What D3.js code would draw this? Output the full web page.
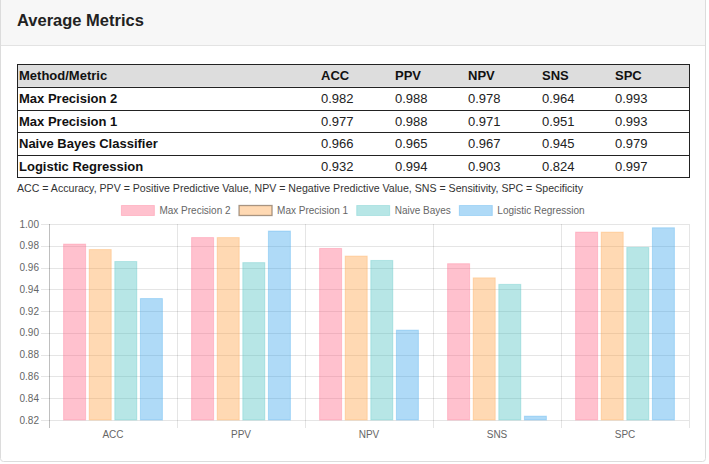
<!doctype html>
<html>
<head>
<meta charset="utf-8">
<script src="https://d3js.org/d3.v7.min.js"></script>
<style>
  html, body { margin: 0; padding: 0; background: #fff; }
  svg { display: block; font-family: "Liberation Sans", Arial, Helvetica, sans-serif; }
</style>
</head>
<body>
<svg id="chart" width="709" height="464"></svg>
<script>
// data
var metrics = ["ACC", "PPV", "NPV", "SNS", "SPC"];
var methods = ["Max Precision 2", "Max Precision 1", "Naive Bayes Classifier", "Logistic Regression"];
var legendNames = ["Max Precision 2", "Max Precision 1", "Naive Bayes", "Logistic Regression"];
var maxPrecision2 = [0.982, 0.988, 0.978, 0.964, 0.993];
var maxPrecision1 = [0.977, 0.988, 0.971, 0.951, 0.993];
var naiveBayes = [0.966, 0.965, 0.967, 0.945, 0.979];
var logisticRegression = [0.932, 0.994, 0.903, 0.824, 0.997];
var yTicks = [0.82, 0.84, 0.86, 0.88, 0.90, 0.92, 0.94, 0.96, 0.98, 1.00];
var footnote = "ACC = Accuracy, PPV = Positive Predictive Value, NPV = Negative Predictive Value, SNS = Sensitivity, SPC = Specificity";

var series = [maxPrecision2, maxPrecision1, naiveBayes, logisticRegression];
var colors = [[255, 99, 132], [255, 159, 64], [75, 192, 192], [54, 162, 235]];
function rgba(c, a) { return "rgba(" + c[0] + "," + c[1] + "," + c[2] + "," + a + ")"; }

var svg = d3.select("#chart");

// card
svg.append("rect")
    .attr("x", 0.5).attr("y", -4).attr("width", 705).attr("height", 465.5)
    .attr("rx", 3).attr("fill", "#fff").attr("stroke", "#dcdcdc");
svg.append("rect")
    .attr("x", 1).attr("y", 0).attr("width", 704).attr("height", 45.5)
    .attr("fill", "#f7f7f7");
svg.append("line")
    .attr("x1", 1).attr("x2", 705).attr("y1", 45.5).attr("y2", 45.5)
    .attr("stroke", "#e3e3e3");
svg.append("text")
    .attr("x", 17).attr("y", 26)
    .attr("font-size", "16.5px").attr("font-weight", "bold").attr("fill", "#222")
    .text("Average Metrics");

// table
var tLeft = 17, tRight = 690;
var colX = [19, 321, 395, 468, 542, 615];
var rowY = d3.scaleBand().domain(d3.range(methods.length + 1)).range([64, 178]);

var table = svg.append("g");
table.append("rect")
    .attr("x", tLeft).attr("y", rowY(0)).attr("width", tRight - tLeft).attr("height", rowY.bandwidth())
    .attr("fill", "#dddddd");

var headerCells = ["Method/Metric"].concat(metrics);
table.selectAll(".hd").data(headerCells).enter().append("text")
    .attr("class", "hd")
    .attr("x", function(d, i) { return colX[i]; })
    .attr("y", rowY(0) + rowY.bandwidth() / 2 + 4.5)
    .attr("font-size", "13px").attr("font-weight", "bold").attr("fill", "#111")
    .text(function(d) { return d; });

methods.forEach(function(m, r) {
    var y = rowY(r + 1) + rowY.bandwidth() / 2 + 4.5;
    table.append("text")
        .attr("x", colX[0]).attr("y", y)
        .attr("font-size", "13px").attr("font-weight", "bold").attr("fill", "#111")
        .text(m);
    table.selectAll(".v" + r).data(series[r]).enter().append("text")
        .attr("x", function(d, i) { return colX[i + 1]; })
        .attr("y", y)
        .attr("font-size", "13px").attr("fill", "#222")
        .text(function(d) { return d3.format(".3f")(d); });
});

table.selectAll(".rl").data(d3.range(1, methods.length + 1)).enter().append("line")
    .attr("x1", tLeft).attr("x2", tRight)
    .attr("y1", function(d) { return Math.round(rowY(d)) + 0.5; })
    .attr("y2", function(d) { return Math.round(rowY(d)) + 0.5; })
    .attr("stroke", "#222");
table.append("rect")
    .attr("x", tLeft + 0.5).attr("y", rowY(0) + 0.5)
    .attr("width", tRight - tLeft - 1).attr("height", 178 - rowY(0) - 1)
    .attr("fill", "none").attr("stroke", "#222");

svg.append("text")
    .attr("x", 17).attr("y", 192)
    .attr("font-size", "10.6px").attr("fill", "#333")
    .text(footnote);

// bar chart
var x0 = d3.scaleBand().domain(metrics).range([49, 689]);
var x1 = d3.scaleBand().domain(d3.range(series.length))
    .range([0, x0.bandwidth() * 0.8]).paddingInner(0.1).paddingOuter(0.05);
var y = d3.scaleLinear().domain([0.82, 1.00]).range([420, 224]);

var grid = svg.append("g");
grid.selectAll(".hg").data(yTicks).enter().append("line")
    .attr("x1", 41).attr("x2", 689)
    .attr("y1", function(d) { return Math.round(y(d)) + 0.5; })
    .attr("y2", function(d) { return Math.round(y(d)) + 0.5; })
    .attr("stroke", "rgba(0,0,0,0.1)");
var bounds = metrics.map(function(m) { return x0(m); }).concat([689]);
grid.selectAll(".vg").data(bounds).enter().append("line")
    .attr("x1", function(d) { return Math.round(d) + 0.5; })
    .attr("x2", function(d) { return Math.round(d) + 0.5; })
    .attr("y1", 224).attr("y2", 428)
    .attr("stroke", function(d, i) { return i === 0 ? "rgba(0,0,0,0.25)" : "rgba(0,0,0,0.1)"; });

grid.selectAll(".yl").data(yTicks).enter().append("text")
    .attr("x", 39).attr("y", function(d) { return y(d) + 3.5; })
    .attr("text-anchor", "end").attr("font-size", "10px").attr("fill", "#666")
    .text(function(d) { return d3.format(".2f")(d); });

grid.selectAll(".xl").data(metrics).enter().append("text")
    .attr("x", function(d) { return x0(d) + x0.bandwidth() / 2; })
    .attr("y", 438)
    .attr("text-anchor", "middle").attr("font-size", "10px").attr("fill", "#666")
    .text(function(d) { return d; });

var groups = svg.append("g").selectAll(".grp").data(metrics).enter().append("g")
    .attr("transform", function(d) { return "translate(" + (x0(d) + x0.bandwidth() * 0.1) + ",0)"; });

groups.selectAll("rect")
    .data(function(d, i) { return series.map(function(s, k) { return { k: k, v: s[i] }; }); })
    .enter().append("rect")
    .attr("x", function(d) { return x1(d.k) + 0.5; })
    .attr("y", function(d) { return y(d.v) + 0.5; })
    .attr("width", x1.bandwidth() - 1)
    .attr("height", function(d) { return Math.max(0, y(0.82) - y(d.v) - 0.5); })
    .attr("fill", function(d) { return rgba(colors[d.k], 0.4); })
    .attr("stroke", function(d) { return rgba(colors[d.k], 0.3); })
    .attr("stroke-width", 1);

// legend
var legend = svg.append("g");
var items = legend.selectAll(".li").data(legendNames).enter().append("g");
items.append("rect")
    .attr("width", 33).attr("height", 10).attr("y", 205.5)
    .attr("fill", function(d, i) { return rgba(colors[i], 0.4); })
    .attr("stroke", function(d, i) { return i === 1 ? "rgba(110,90,70,0.6)" : rgba(colors[i], 0.3); })
    .attr("stroke-width", function(d, i) { return i === 1 ? 1.3 : 1; });
items.append("text")
    .attr("x", 38).attr("y", 214)
    .attr("font-size", "10px").attr("fill", "#666")
    .text(function(d) { return d; });
var widths = [];
items.each(function() { widths.push(33 + 5 + d3.select(this).select("text").node().getComputedTextLength()); });
var gap = 8.5;
var total = d3.sum(widths) + gap * (widths.length - 1);
var cx = 353 - total / 2;
items.attr("transform", function(d, i) {
    var off = cx + d3.sum(widths.slice(0, i)) + gap * i;
    return "translate(" + off + ",0)";
});
</script>
</body>
</html>
